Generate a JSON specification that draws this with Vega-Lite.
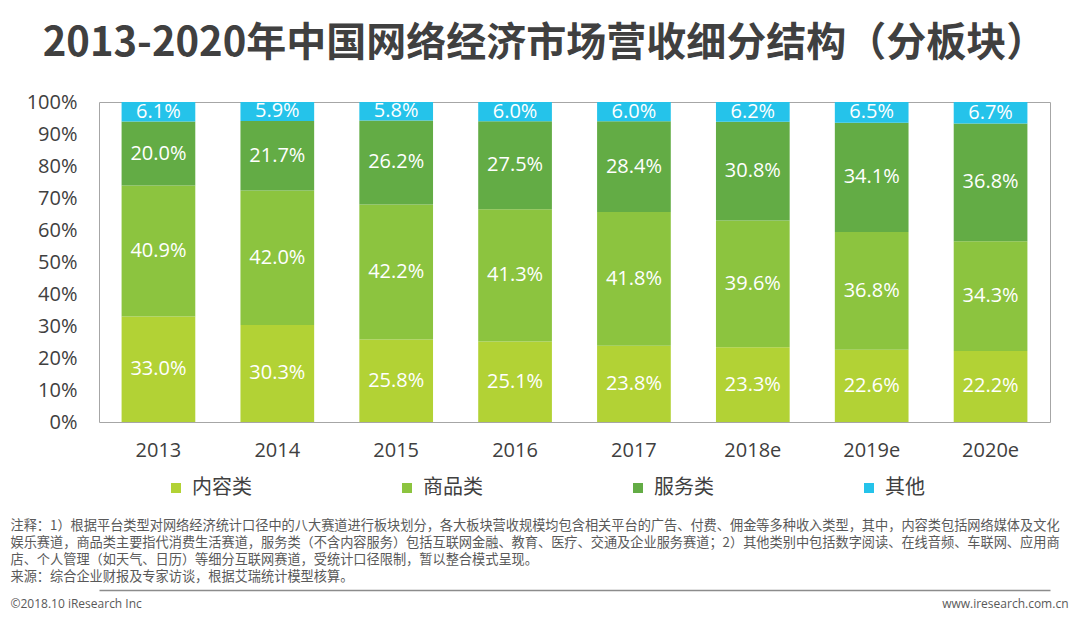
{
  "$schema": "https://vega.github.io/schema/vega-lite/v6.json",
  "width": 951,
  "height": 320,
  "autosize": {"type": "none"},
  "padding": {"left": 99, "top": 102, "right": 30, "bottom": 196},
  "background": "white",
  "config": {
    "view": {"stroke": "#a6a6a6", "strokeWidth": 1},
    "font": "Noto Sans CJK SC"
  },
  "title": {
    "text": "2013-2020年中国网络经济市场营收细分结构（分板块）",
    "fontSize": 40,
    "fontWeight": "bold",
    "color": "#404040",
    "font": "Noto Sans CJK SC",
    "anchor": "middle",
    "dx": -30,
    "offset": 28
  },
  "data": {
    "values": [
      {"year": "2013", "category": "内容类", "order": 1, "value": 0.330},
      {"year": "2013", "category": "商品类", "order": 2, "value": 0.409},
      {"year": "2013", "category": "服务类", "order": 3, "value": 0.200},
      {"year": "2013", "category": "其他", "order": 4, "value": 0.061},
      {"year": "2014", "category": "内容类", "order": 1, "value": 0.303},
      {"year": "2014", "category": "商品类", "order": 2, "value": 0.420},
      {"year": "2014", "category": "服务类", "order": 3, "value": 0.217},
      {"year": "2014", "category": "其他", "order": 4, "value": 0.059},
      {"year": "2015", "category": "内容类", "order": 1, "value": 0.258},
      {"year": "2015", "category": "商品类", "order": 2, "value": 0.422},
      {"year": "2015", "category": "服务类", "order": 3, "value": 0.262},
      {"year": "2015", "category": "其他", "order": 4, "value": 0.058},
      {"year": "2016", "category": "内容类", "order": 1, "value": 0.251},
      {"year": "2016", "category": "商品类", "order": 2, "value": 0.413},
      {"year": "2016", "category": "服务类", "order": 3, "value": 0.275},
      {"year": "2016", "category": "其他", "order": 4, "value": 0.060},
      {"year": "2017", "category": "内容类", "order": 1, "value": 0.238},
      {"year": "2017", "category": "商品类", "order": 2, "value": 0.418},
      {"year": "2017", "category": "服务类", "order": 3, "value": 0.284},
      {"year": "2017", "category": "其他", "order": 4, "value": 0.060},
      {"year": "2018e", "category": "内容类", "order": 1, "value": 0.233},
      {"year": "2018e", "category": "商品类", "order": 2, "value": 0.396},
      {"year": "2018e", "category": "服务类", "order": 3, "value": 0.308},
      {"year": "2018e", "category": "其他", "order": 4, "value": 0.062},
      {"year": "2019e", "category": "内容类", "order": 1, "value": 0.226},
      {"year": "2019e", "category": "商品类", "order": 2, "value": 0.368},
      {"year": "2019e", "category": "服务类", "order": 3, "value": 0.341},
      {"year": "2019e", "category": "其他", "order": 4, "value": 0.065},
      {"year": "2020e", "category": "内容类", "order": 1, "value": 0.222},
      {"year": "2020e", "category": "商品类", "order": 2, "value": 0.343},
      {"year": "2020e", "category": "服务类", "order": 3, "value": 0.368},
      {"year": "2020e", "category": "其他", "order": 4, "value": 0.067}
    ]
  },
  "transform": [
    {"stack": "value", "groupby": ["year"], "sort": [{"field": "order", "order": "ascending"}], "offset": "normalize", "as": ["y0", "y1"]},
    {"calculate": "(datum.y0 + datum.y1) / 2", "as": "ymid"}
  ],
  "layer": [
    {
      "mark": {"type": "bar"},
      "encoding": {
        "x": {
          "field": "year",
          "type": "ordinal",
          "sort": null,
          "scale": {"paddingInner": 0.38, "paddingOuter": 0.19},
          "axis": {
            "orient": "bottom",
            "labelAngle": 0,
            "labelFont": "Open Sans",
            "labelFontSize": 20,
            "labelColor": "#404040",
            "labelPadding": 18,
            "ticks": false,
            "domain": false,
            "title": [
              "注释：1）根据平台类型对网络经济统计口径中的八大赛道进行板块划分，各大板块营收规模均包含相关平台的广告、付费、佣金等多种收入类型，其中，内容类包括网络媒体及文化",
              "娱乐赛道，商品类主要指代消费生活赛道，服务类（不含内容服务）包括互联网金融、教育、医疗、交通及企业服务赛道；2）其他类别中包括数字阅读、在线音频、车联网、应用商",
              "店、个人管理（如天气、日历）等细分互联网赛道，受统计口径限制，暂以整合模式呈现。",
              "来源：综合企业财报及专家访谈，根据艾瑞统计模型核算。"
            ],
            "titleFont": "Noto Sans CJK SC",
            "titleFontSize": 13.2,
            "titleFontWeight": "normal",
            "titleColor": "#595959",
            "titleAnchor": "start",
            "titleAlign": "left",
            "titleBaseline": "top",
            "titleX": -89,
            "titleY": 97,
            "titleLineHeight": 17
          }
        },
        "y": {
          "field": "y0",
          "type": "quantitative",
          "scale": {"domain": [0, 1]},
          "axis": {
            "values": [0, 0.1, 0.2, 0.3, 0.4, 0.5, 0.6, 0.7, 0.8, 0.9, 1],
            "format": ".0%",
            "labelFont": "Open Sans",
            "labelFontSize": 20,
            "labelColor": "#404040",
            "labelPadding": 22,
            "ticks": false,
            "domain": false,
            "grid": false,
            "title": "©2018.10 iResearch Inc",
            "titleFont": "Open Sans",
            "titleFontSize": 12,
            "titleFontWeight": "normal",
            "titleColor": "#595959",
            "titleAngle": 0,
            "titleAlign": "left",
            "titleBaseline": "middle",
            "titleX": -89,
            "titleY": 501
          }
        },
        "y2": {"field": "y1"},
        "color": {
          "field": "category",
          "type": "nominal",
          "scale": {
            "domain": ["内容类", "商品类", "服务类", "其他"],
            "range": ["#b2d235", "#8cc43f", "#63ac45", "#25c3ea"]
          },
          "legend": {
            "orient": "none",
            "legendX": 67,
            "legendY": 376,
            "direction": "horizontal",
            "columns": 4,
            "columnPadding": 145,
            "symbolType": "square",
            "symbolSize": 100,
            "symbolStrokeWidth": 0,
            "labelFontSize": 20,
            "labelFont": "Noto Sans CJK SC",
            "labelColor": "#404040",
            "labelOffset": 6,
            "title": null
          }
        }
      }
    },
    {
      "mark": {"type": "text", "color": "white", "fontSize": 20, "font": "Open Sans"},
      "encoding": {
        "x": {
          "field": "year",
          "type": "ordinal",
          "sort": null,
          "axis": {
            "orient": "bottom",
            "offset": 168,
            "labels": false,
            "ticks": false,
            "domain": true,
            "domainColor": "#8c8c8c",
            "domainWidth": 1.5,
            "title": null
          }
        },
        "y": {
          "field": "ymid",
          "type": "quantitative",
          "axis": {
            "orient": "right",
            "labels": false,
            "ticks": false,
            "domain": false,
            "grid": false,
            "title": "www.iresearch.com.cn",
            "titleFont": "Open Sans",
            "titleFontSize": 12,
            "titleFontWeight": "normal",
            "titleColor": "#595959",
            "titleAngle": 0,
            "titleAlign": "right",
            "titleBaseline": "middle",
            "titleX": 18,
            "titleY": 501
          }
        },
        "text": {"field": "value", "type": "quantitative", "format": ".1%"}
      }
    }
  ],
  "resolve": {"axis": {"x": "independent", "y": "independent"}}
}
